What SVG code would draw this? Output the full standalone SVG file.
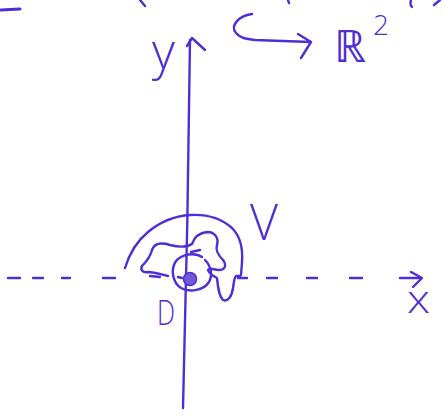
<svg xmlns="http://www.w3.org/2000/svg" width="445" height="417" viewBox="0 0 445 417">
<style>
.pen{fill:none;stroke:#4f2ed6;stroke-width:2.4;stroke-linecap:round;stroke-linejoin:round}
.lbl{fill:#4f2ed6;stroke:none;font-family:"Open Sans","DejaVu Sans",sans-serif;font-weight:300}
</style>
<rect width="445" height="417" fill="#ffffff"/>
<g id="stray" class="pen">
<path d="M1,10 L20,9" stroke-width="3.2"/>
<path d="M140,0 L145,6"/>
<path d="M288,0 L289,3"/>
<path d="M411,0 C410,3 410,5 412,7"/>
<path d="M434,5 L440,0"/>
</g>
<g id="connectors" class="pen">
<path id="y-axis" d="M190,40 C189,150 186,300 183,408"/>
<path d="M187,46 L192,38 L205,50"/>
<path id="inclusion" d="M252,14 C238,16 230,26 236,33 C240,38 246,39 255,40 L311,42"/>
<path d="M298,34 L311,42 L301,58"/>
<path id="x-axis" d="M8,278 L20,278 M33,278 L43,278 M62,278 L70,278 M103,278 L115,278 M150,276 L160,277 M238,278 L247,278 M267,278 L277,278 M307,278 L317,278 M350,278 L362,278 M400,278 L421,278"/>
<path d="M411,272 L422,278 L413,287"/>
</g>
<g id="V" class="pen">
<path d="M125,268 C129,255 137,241 148,232 C160,222 175,216 190,215 C207,214 222,219 232,228 C240,236 243,248 242,262 L241,275"/>
<path d="M142,266 C146,262 150,258 152,250 C154,244 160,242 170,245 C178,247 186,248 192,244 C194,238 198,233 207,232 C215,232 219,238 217,245 C215,251 219,256 223,260 C227,265 225,270 219,270 C214,270 210,267 208,270 C209,274 213,276 217,278 C218,288 219,296 223,300 C228,302 232,296 233,288 C234,282 234,278 236,276 L240,276"/>
<path d="M142,266 C140,270 143,273 148,272 C153,272 160,274 168,276"/>
<text class="lbl" x="250" y="240" font-size="50" textLength="28" lengthAdjust="spacingAndGlyphs">V</text>
</g>
<g id="D" class="pen">
<path d="M202,257 C195,252 182,254 176,261 C170,270 173,283 181,288 C190,293 204,290 209,282 C213,275 211,266 205,260"/>
<path d="M191,252 L200,250"/>
<path d="M178,277 L182,278"/>
<circle cx="190" cy="279" r="6.5" fill="#7458d6" stroke="#4f2ed6" stroke-width="1.5"/>
<text class="lbl" x="157" y="325" font-size="35" textLength="18" lengthAdjust="spacingAndGlyphs">D</text>
</g>
<g id="labels">
<text class="lbl" x="152" y="69" font-size="50">y</text>
<text class="lbl" x="334" y="62" font-size="45" style="font-family:'DejaVu Sans',sans-serif;font-weight:200">ℝ</text>
<text class="lbl" x="373" y="35" font-size="28">2</text>
<text class="lbl" x="407" y="313" font-size="38" textLength="23" lengthAdjust="spacingAndGlyphs">x</text>
</g>
</svg>
